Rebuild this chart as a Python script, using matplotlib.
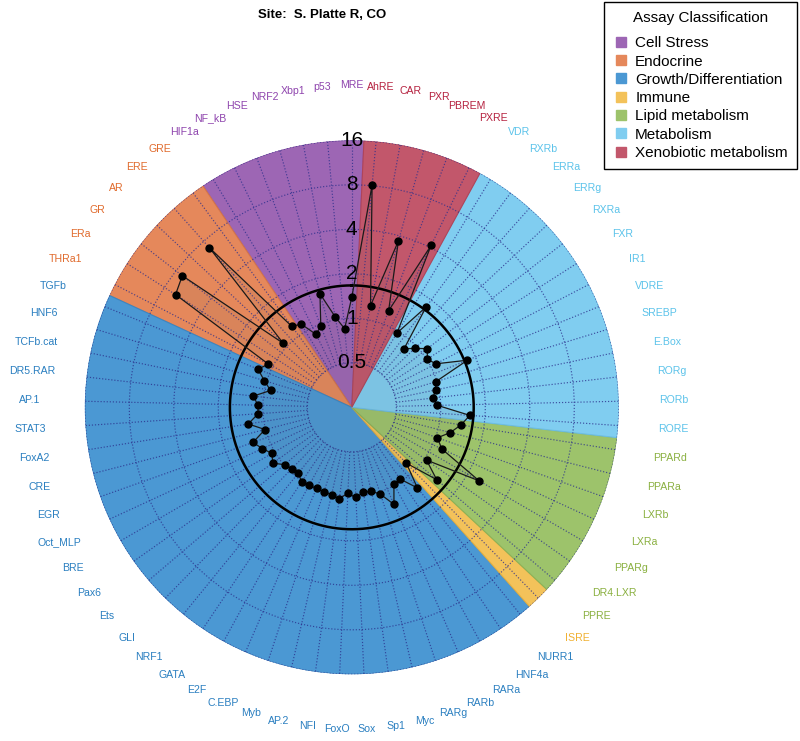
import numpy as np
import matplotlib
matplotlib.use("Agg")
import matplotlib.pyplot as plt
from matplotlib.lines import Line2D

plt.rcParams['font.family'] = ['Liberation Sans', 'DejaVu Sans']

title = "Site:  S. Platte R, CO"
legend_title = "Assay Classification"

categories = ["Cell Stress", "Endocrine", "Growth/Differentiation", "Immune",
              "Lipid metabolism", "Metabolism", "Xenobiotic metabolism"]
cat_counts = [7, 6, 30, 1, 7, 13, 5]
cat_fill = ['#9d66b4', '#e5885b', '#4b98d3', '#f3c25a', '#9dc36b', '#80cdf0', '#c2576b']
cat_edge = ['#8a52a3', '#d5744a', '#3b86c2', '#e5b040', '#8ab257', '#6cbde3', '#b04459']
cat_text = ['#8e44ad', '#e06a2c', '#2a7fc0', '#f0b030', '#8ab040', '#5cc3ea', '#b5213f']

# assays in counter-clockwise order starting at the top
assays = ["MRE", "p53", "Xbp1", "NRF2", "HSE", "NF_kB", "HIF1a",
          "GRE", "ERE", "AR", "GR", "ERa", "THRa1",
          "TGFb", "HNF6", "TCFb.cat", "DR5.RAR", "AP.1", "STAT3", "FoxA2", "CRE",
          "EGR", "Oct_MLP", "BRE", "Pax6", "Ets", "GLI", "NRF1", "GATA", "E2F",
          "C.EBP", "Myb", "AP.2", "NFI", "FoxO", "Sox", "Sp1", "Myc", "RARg",
          "RARb", "RARa", "HNF4a", "NURR1",
          "ISRE",
          "PPRE", "DR4.LXR", "PPARg", "LXRa", "LXRb", "PPARa", "PPARd",
          "RORE", "RORb", "RORg", "E.Box", "SREBP", "VDRE", "IR1", "FXR", "RXRa",
          "ERRg", "ERRa", "RXRb", "VDR",
          "PXRE", "PBREM", "PXR", "CAR", "AhRE"]

values = [1.39, 0.855, 1.05, 1.57, 0.97, 0.886, 1.14,
          1.20, 7.0, 1.08, 7.07, 6.51, 1.08,
          1.21, 1.04, 0.91, 1.17, 1.08, 1.08, 1.28, 1.01,
          1.28, 1.16, 1.05, 1.13, 0.99, 0.95, 0.94, 1.01, 1.00,
          0.99, 1.00, 1.01, 1.05, 0.955, 1.02, 0.95, 0.956, 1.04,
          1.30, 0.98, 0.96, 1.26,
          0.845,
          1.42, 1.04, 2.47, 1.17, 1.03, 1.22, 1.40,
          1.58, 0.95, 0.89, 0.95, 0.98, 1.75, 1.09, 1.01, 1.11,
          0.96, 0.85, 1.75, 0.97,
          4.14, 1.25, 3.69, 1.25, 8.1]

threshold = 1.67
radial_ticks = [0.5, 1, 2, 4, 8, 16]
radial_tick_labels = ["0.5", "1", "2", "4", "8", "16"]
r_min, r_max = 0.25, 16
label_r = 37.7

n = len(assays)
step = 2 * np.pi / n
theta = np.arange(n) * step
cat_index = np.repeat(np.arange(len(categories)), cat_counts)

fig = plt.figure(figsize=(8, 7.41), dpi=100)
ax = fig.add_axes([0.106, 0.090, 0.6675, 0.7206], projection='polar')
ax.set_theta_zero_location('N')
ax.set_theta_direction(1)
ax.set_rscale('log')
ax.set_rlim(r_min, r_max)
ax.grid(False)
ax.set_xticks([])
ax.set_yticks([])
ax.spines['polar'].set_visible(False)

# category wedges
start = 0
for k, c in enumerate(cat_counts):
    center = (start + (c - 1) / 2) * step
    ax.bar(center, r_max - r_min, width=c * step, bottom=r_min,
           color=cat_fill[k], edgecolor=cat_edge[k], linewidth=0.8, zorder=1)
    start += c

grid_c = '#2b2f8c'
tt = np.linspace(0, 2 * np.pi, 600)
for t in theta:
    ax.plot([t, t], [0.5, r_max], color=grid_c, ls=(0, (1, 1.6)), lw=0.85, alpha=0.8, zorder=2)
for r in radial_ticks:
    ax.plot(tt, np.full_like(tt, r), color=grid_c, ls=(0, (1, 1.6)), lw=0.85, alpha=0.8, zorder=2)

ax.plot(tt, np.full_like(tt, threshold), color='black', lw=1.8, zorder=4)

th_c = np.append(theta, 2 * np.pi)
v_c = np.append(values, values[0])
ax.fill(th_c, v_c, color='#555555', alpha=0.08, lw=0, zorder=3)
ax.plot(th_c, v_c, color='#1a1a1a', lw=0.9, zorder=5)
ax.plot(theta, values, ls='none', marker='o', ms=5, color='black', zorder=6)

for v, lab in zip(radial_ticks, radial_tick_labels):
    ax.text(0, v, lab, ha='center', va='center', fontsize=15, color='black', zorder=7)

for i in range(n):
    ax.text(theta[i], label_r, assays[i], ha='center', va='center', fontsize=7.6,
            color=cat_text[cat_index[i]], clip_on=False)

fig.text(0.4025, 0.98, title, ha='center', va='center', fontsize=9.5, fontweight='bold')

handles = [Line2D([], [], marker='s', ls='none', markersize=6.5,
                  markerfacecolor=cat_fill[k], markeredgecolor=cat_fill[k])
           for k in range(len(categories))]
leg = fig.legend(handles, categories, title=legend_title, loc='upper right',
                 bbox_to_anchor=(797 / 800, 1 - 2 / 741), borderaxespad=0,
                 frameon=True, fancybox=False,
                 edgecolor='black', fontsize=11, title_fontsize=11,
                 handletextpad=0.4, labelspacing=0.28, borderpad=0.6,
                 handlelength=1.05, framealpha=1)
leg.get_frame().set_linewidth(1.0)
leg._legend_box.sep = 8

fig.savefig('out.png', dpi=100)
